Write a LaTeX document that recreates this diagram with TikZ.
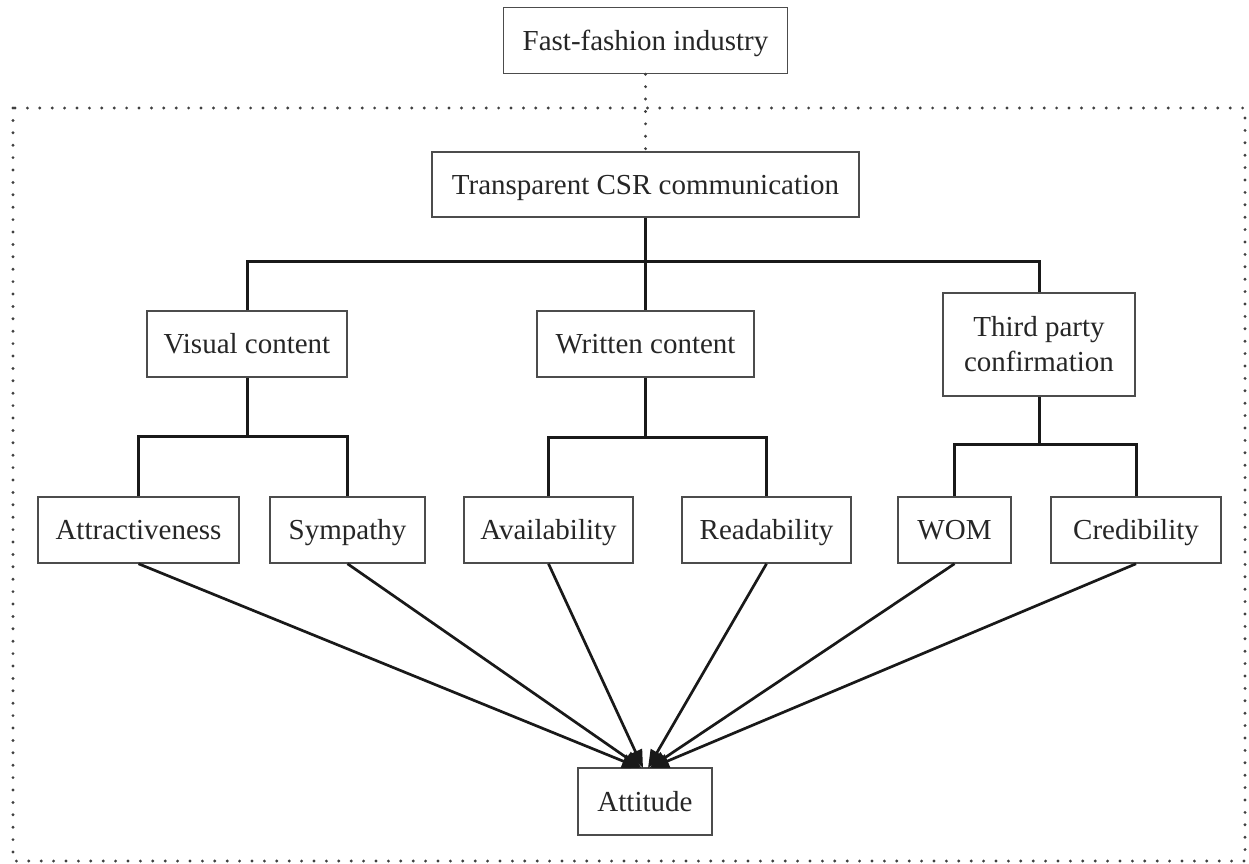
\documentclass[tikz,border=0pt]{standalone}
\usepackage{fontspec}
\setmainfont{Liberation Serif}
\usetikzlibrary{arrows.meta}
\begin{document}
\begin{tikzpicture}[x=1pt,y=-1pt,
  box/.style={draw=black!70, line width=1.5pt, inner sep=0pt, align=center,
    font=\fontsize{29}{35}\selectfont, text=black!85, fill=white},
  onebox/.style={box, text height=22pt, text depth=3pt},
  conn/.style={draw=black!90, line width=3pt},
  arr/.style={draw=black!90, line width=2.7pt, -{Triangle[length=18pt,width=14pt]}},
  dotline/.style={draw=black!75, line width=3.2pt, line cap=round, dash pattern=on 0pt off 12.4pt}]
\useasboundingbox (0,0) rectangle (1249,863);
\fill[white] (0,0) rectangle (1249,863);
% dotted frame
\draw[dotline] (13,108) rectangle (1245,861);
% nodes
\node[onebox,minimum width=284pt,minimum height=66pt] (ff) at (645.5,40.5) {Fast-fashion industry};
\node[onebox,minimum width=427pt,minimum height=65pt] (csr) at (645.5,184.5) {Transparent CSR communication};
\node[onebox,minimum width=200pt,minimum height=66pt] (vis) at (247,344) {Visual content};
\node[onebox,minimum width=217pt,minimum height=66pt] (wri) at (645.5,344) {Written content};
\node[box,minimum width=192pt,minimum height=103pt] (tpc) at (1039,344.5) {Third party\\confirmation};
\node[onebox,minimum width=201pt,minimum height=66pt] (att) at (138.5,530) {Attractiveness};
\node[onebox,minimum width=155pt,minimum height=66pt] (sym) at (347.5,530) {Sympathy};
\node[onebox,minimum width=169pt,minimum height=66pt] (ava) at (548.5,530) {Availability};
\node[onebox,minimum width=169pt,minimum height=66pt] (rea) at (766.5,530) {Readability};
\node[onebox,minimum width=113pt,minimum height=66pt] (wom) at (954.5,530) {WOM};
\node[onebox,minimum width=170pt,minimum height=66pt] (cre) at (1136,530) {Credibility};
\node[onebox,minimum width=134pt,minimum height=67pt] (atd) at (645,801.5) {Attitude};
% dotted link
\draw[dotline] (ff.south) -- (csr.north);
% bus coordinates
\coordinate (bt) at (645.5,261);
\coordinate (bv) at (247,436);
\coordinate (bw) at (645.5,437);
\coordinate (bp) at (1039,444);
% tree connectors
\draw[conn] (csr.south) -- (bt);
\draw[conn] (vis.north) |- (bt) -| (tpc.north);
\draw[conn] (bt) -- (wri.north);
\draw[conn] (vis.south) -- (bv);
\draw[conn] (att.north) |- (bv) -| (sym.north);
\draw[conn] (wri.south) -- (bw);
\draw[conn] (ava.north) |- (bw) -| (rea.north);
\draw[conn] (tpc.south) -- (bp);
\draw[conn] (wom.north) |- (bp) -| (cre.north);
% arrow end points
\coordinate (e1) at (640,768);
\coordinate (e2) at (641.5,768);
\coordinate (e3) at (643,768);
\coordinate (e4) at (648,768);
\coordinate (e5) at (649.5,768);
\coordinate (e6) at (651,768);
\draw[arr] (att.south) -- (e1);
\draw[arr] (sym.south) -- (e2);
\draw[arr] (ava.south) -- (e3);
\draw[arr] (rea.south) -- (e4);
\draw[arr] (wom.south) -- (e5);
\draw[arr] (cre.south) -- (e6);
\end{tikzpicture}
\end{document}
